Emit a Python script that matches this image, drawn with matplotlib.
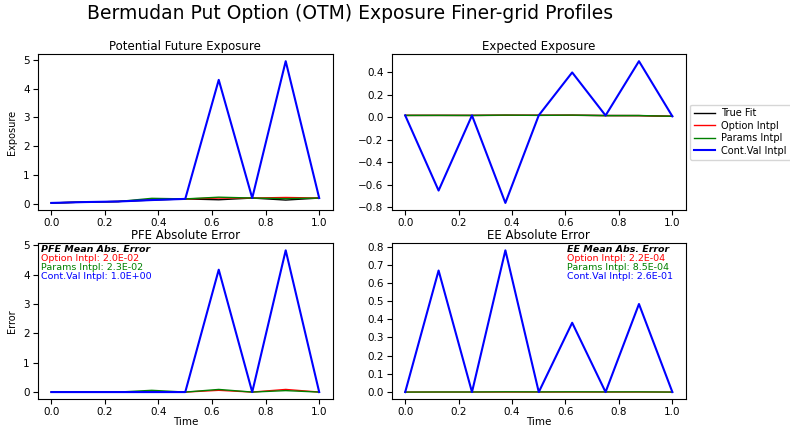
import numpy as np
import matplotlib.pyplot as plt

# time grid
time = [0.0, 0.125, 0.25, 0.375, 0.5, 0.625, 0.75, 0.875, 1.0]

# potential future exposure profiles
pfe_true = [0.02, 0.05, 0.07, 0.12, 0.16, 0.13, 0.19, 0.12, 0.19]
pfe_option = [0.02, 0.05, 0.07, 0.14, 0.16, 0.19, 0.19, 0.21, 0.19]
pfe_params = [0.02, 0.05, 0.07, 0.18, 0.16, 0.22, 0.19, 0.17, 0.19]
pfe_cont = [0.02, 0.05, 0.07, 0.12, 0.16, 4.30, 0.19, 4.95, 0.19]

# expected exposure profiles
ee_true = [0.018, 0.018, 0.018, 0.019, 0.019, 0.019, 0.017, 0.016, 0.010]
ee_option = [0.018, 0.0182, 0.0178, 0.0193, 0.0188, 0.0194, 0.0167, 0.0164, 0.010]
ee_params = [0.018, 0.0185, 0.0175, 0.0205, 0.0180, 0.0205, 0.0160, 0.0172, 0.010]
ee_cont = [0.018, -0.65, 0.018, -0.76, 0.019, 0.40, 0.017, 0.50, 0.010]

labels = ['True Fit', 'Option Intpl', 'Params Intpl', 'Cont.Val Intpl']
pfe_mae_txt = ['Option Intpl: 2.0E-02', 'Params Intpl: 2.3E-02', 'Cont.Val Intpl: 1.0E+00']
ee_mae_txt = ['Option Intpl: 2.2E-04', 'Params Intpl: 8.5E-04', 'Cont.Val Intpl: 2.6E-01']

fig = plt.figure(figsize=(7.9, 4.26), dpi=100)
ax1 = fig.add_axes([0.048, 0.507, 0.373, 0.366])
ax2 = fig.add_axes([0.496, 0.507, 0.372, 0.366])
ax3 = fig.add_axes([0.048, 0.063, 0.373, 0.366])
ax4 = fig.add_axes([0.496, 0.063, 0.372, 0.366])


def profiles(ax, t, o, p, c):
    ax.plot(time, t, color='k', lw=1.0, label=labels[0])
    ax.plot(time, o, color='r', lw=1.0, label=labels[1])
    ax.plot(time, p, color='g', lw=1.0, label=labels[2])
    ax.plot(time, c, color='b', lw=1.5, label=labels[3])


profiles(ax1, pfe_true, pfe_option, pfe_params, pfe_cont)
profiles(ax2, ee_true, ee_option, ee_params, ee_cont)

t = np.array(pfe_true)
ax3.plot(time, np.abs(np.array(pfe_option) - t), color='r', lw=1.0)
ax3.plot(time, np.abs(np.array(pfe_params) - t), color='g', lw=1.0)
ax3.plot(time, np.abs(np.array(pfe_cont) - t), color='b', lw=1.5)
t = np.array(ee_true)
ax4.plot(time, np.abs(np.array(ee_option) - t), color='r', lw=1.0)
ax4.plot(time, np.abs(np.array(ee_params) - t), color='g', lw=1.0)
ax4.plot(time, np.abs(np.array(ee_cont) - t), color='b', lw=1.5)

ax1.set_title('Potential Future Exposure', fontsize=8.5, pad=3)
ax2.set_title('Expected Exposure', fontsize=8.5, pad=3)
ax3.set_title('PFE Absolute Error', fontsize=8.5, pad=3)
ax4.set_title('EE Absolute Error', fontsize=8.5, pad=3)
ax1.set_ylabel('Exposure', fontsize=7)
ax3.set_ylabel('Error', fontsize=7)
ax3.set_xlabel('Time', fontsize=7.5, labelpad=0)
ax4.set_xlabel('Time', fontsize=7.5, labelpad=0)

ax2.set_yticks([-0.8, -0.6, -0.4, -0.2, 0.0, 0.2, 0.4])
ax4.set_yticks([0.0, 0.1, 0.2, 0.3, 0.4, 0.5, 0.6, 0.7, 0.8])
for ax in (ax1, ax2, ax3, ax4):
    ax.tick_params(labelsize=7.5, pad=2.5)
    ax.set_xticks([0.0, 0.2, 0.4, 0.6, 0.8, 1.0])

ax2.legend(loc='center left', bbox_to_anchor=(1.005, 0.5), fontsize=7,
           handlelength=2.2, handletextpad=0.6, borderpad=0.4,
           labelspacing=0.25, borderaxespad=0.3)


def mae_box(ax, x, head, lines):
    ax.text(x, 0.99, head, transform=ax.transAxes, fontsize=6.8,
            fontweight='bold', fontstyle='italic', va='top')
    for i, (s, c) in enumerate(zip(lines, ['r', 'g', 'b'])):
        ax.text(x, 0.99 - 0.059 * (i + 1), s, transform=ax.transAxes,
                fontsize=6.8, color=c, va='top')


mae_box(ax3, 0.01, 'PFE Mean Abs. Error', pfe_mae_txt)
mae_box(ax4, 0.595, 'EE Mean Abs. Error', ee_mae_txt)

fig.suptitle('Bermudan Put Option (OTM) Exposure Finer-grid Profiles',
             x=0.443, y=0.99, fontsize=13.5)

fig.savefig('out.png', dpi=100)
